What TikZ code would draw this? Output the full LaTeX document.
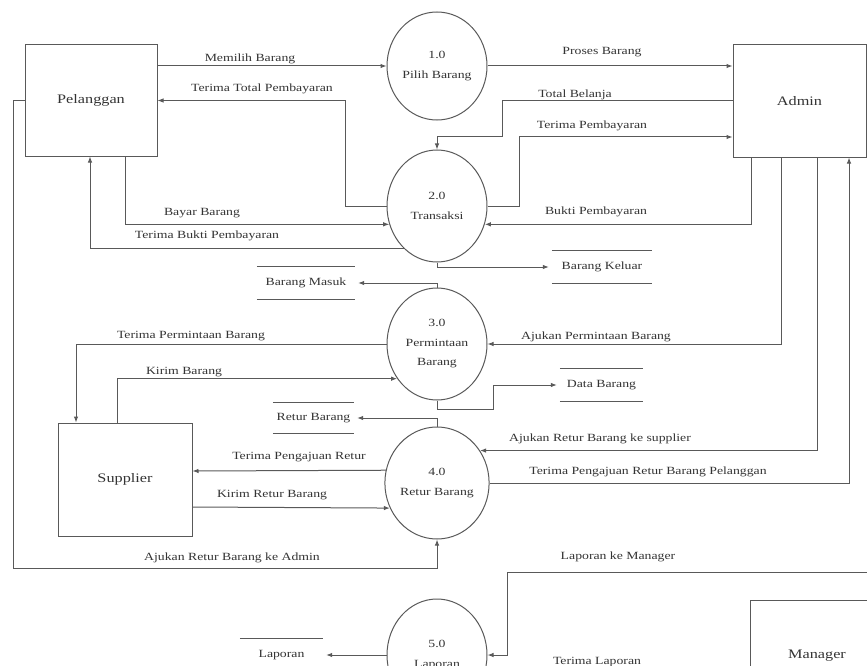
\documentclass[tikz,border=0pt]{standalone}
\usepackage{fontspec}
\setmainfont{Liberation Serif}[FakeStretch=1.25]
\usetikzlibrary{shapes.geometric,arrows.meta,calc}
\begin{document}
\begin{tikzpicture}[x=1pt,y=-1pt,
  line/.style={draw=black!65, line width=1pt},
  arr/.style={line, -{Latex[length=6pt,width=4.5pt]}},
  arrs/.style={arr, shorten >=3pt},
  proc/.style={ellipse, draw=black!65, line width=1pt, minimum width=100pt, minimum height=112pt, inner sep=0pt, align=center, font=\fontsize{11}{19.5}\selectfont, text=black!80},
  ent/.style={rectangle, draw=black!65, line width=1pt, inner sep=0pt, font=\fontsize{13}{15}\selectfont, text=black!80},
  store/.style={inner sep=0pt, minimum height=32pt, font=\fontsize{11}{13}\selectfont, text=black!80},
  lbl/.style={font=\fontsize{11}{13}\selectfont, text=black!80, inner sep=0pt}
]
\path[use as bounding box] (0,0) rectangle (867,666);
\clip (0,0) rectangle (867,666);

% entities
\node[ent, minimum width=132pt, minimum height=111pt] (pel) at (91,100.5) {Pelanggan};
\node[ent, minimum width=133pt, minimum height=112pt] (adm) at (799.5,101) {Admin};
\node[ent, minimum width=134pt, minimum height=113pt] (sup) at (125,479.5) {Supplier};
\node[ent, minimum width=134pt, minimum height=112pt] (mgr) at (817,656) {Manager};

% processes
\node[proc, minimum height=108pt] (p1) at (437,66) {1.0\\Pilih Barang};
\node[proc] (p2) at (437,206) {2.0\\Transaksi};
\node[proc] (p3) at (437,344) {3.0\\Permintaan\\Barang};
\node[proc] (p4) at (437,483) {4.0\\Retur Barang};
\node[proc] (p5) at (437,655) {5.0\\Laporan};

% data stores
\node[store, minimum width=100pt] (bk) at (602,267) {Barang Keluar};
\node[store, minimum width=98pt] (bm) at (306,283) {Barang Masuk};
\node[store, minimum width=83pt] (db) at (601.5,385) {Data Barang};
\node[store, minimum width=81pt, minimum height=31pt] (rb) at (313.5,418) {Retur Barang};
\node[store, minimum width=83pt] (lp) at (281.5,655) {Laporan};
\foreach \n in {bk,bm,db,rb,lp}
  \draw[line] (\n.north west) -- (\n.north east) (\n.south west) -- (\n.south east);

% flows
\draw[arr] (pel.east |- p1.west) -- (p1.west);
\draw[arr] (p2.west) -- (345,206) |- (pel.east);
\draw[arr] (pel.south -| 125,0) |- (p2.201);
\draw[arr] (p2.232) -| (pel.south -| 90,0);
\draw[arr] (p1.east) -- (adm.west |- p1.east);
\draw[arr] (adm.west) -| (502,137) -| (p2.north);
\draw[arr] (p2.east) -- (519,206) |- (adm.west |- 0,137);
\draw[arr] (adm.south -| 751,0) |- (p2.339);
\draw[arrs] (p2.south) |- (bk.west);
\draw[arrs] (p3.north) |- (bm.east);
\draw[arr] (p3.west) -| (sup.north -| 76,0);
\draw[arr] (sup.north -| 117,0) |- (p3.221);
\draw[arr] (adm.south -| 781,0) |- (p3.east);
\draw[arrs] (p3.south) -- (437,409) -| (493,385) -- (db.west);
\draw[arrs] (p4.north) |- (rb.east);
\draw[arr] (adm.south -| 817,0) |- (p4.37);
\draw[arr] (p4.east) -| (adm.south -| 849,0);
\draw[arr] (p4.166) -- (sup.east |- 0,471);
\draw[arr] (sup.east |- 0,507) -- (p4.208);
\draw[arr] (pel.west) -| (13,568) -| (p4.south);
\draw[arr] (mgr.north -| 878,0) |- (507,572) |- (p5.east);
\draw[arrs] (p5.west) -- (lp.east);
\draw[arr] (p5.-24) -- (mgr.west |- 0,676);

% labels
\node[lbl] (t1) at (250,59) {Memilih Barang};
\node[lbl] (t2) at (262,89) {Terima Total Pembayaran};
\node[lbl] (t3) at (202,213) {Bayar Barang};
\node[lbl] (t4) at (207,236) {Terima Bukti Pembayaran};
\node[lbl] (t5) at (602,52) {Proses Barang};
\node[lbl] (t6) at (575,95) {Total Belanja};
\node[lbl] (t7) at (592,126) {Terima Pembayaran};
\node[lbl] (t8) at (596,212) {Bukti Pembayaran};
\node[lbl] (t9) at (191,336) {Terima Permintaan Barang};
\node[lbl] (t10) at (184,372) {Kirim Barang};
\node[lbl] (t11) at (596,337) {Ajukan Permintaan Barang};
\node[lbl] (t12) at (600,439) {Ajukan Retur Barang ke supplier};
\node[lbl] (t13) at (648,472) {Terima Pengajuan Retur Barang Pelanggan};
\node[lbl] (t14) at (299,457) {Terima Pengajuan Retur};
\node[lbl] (t15) at (272,495) {Kirim Retur Barang};
\node[lbl] (t16) at (232,558) {Ajukan Retur Barang ke Admin};
\node[lbl] (t17) at (618,557) {Laporan ke Manager};
\node[lbl] (t18) at (597,662) {Terima Laporan};
\end{tikzpicture}
\end{document}
